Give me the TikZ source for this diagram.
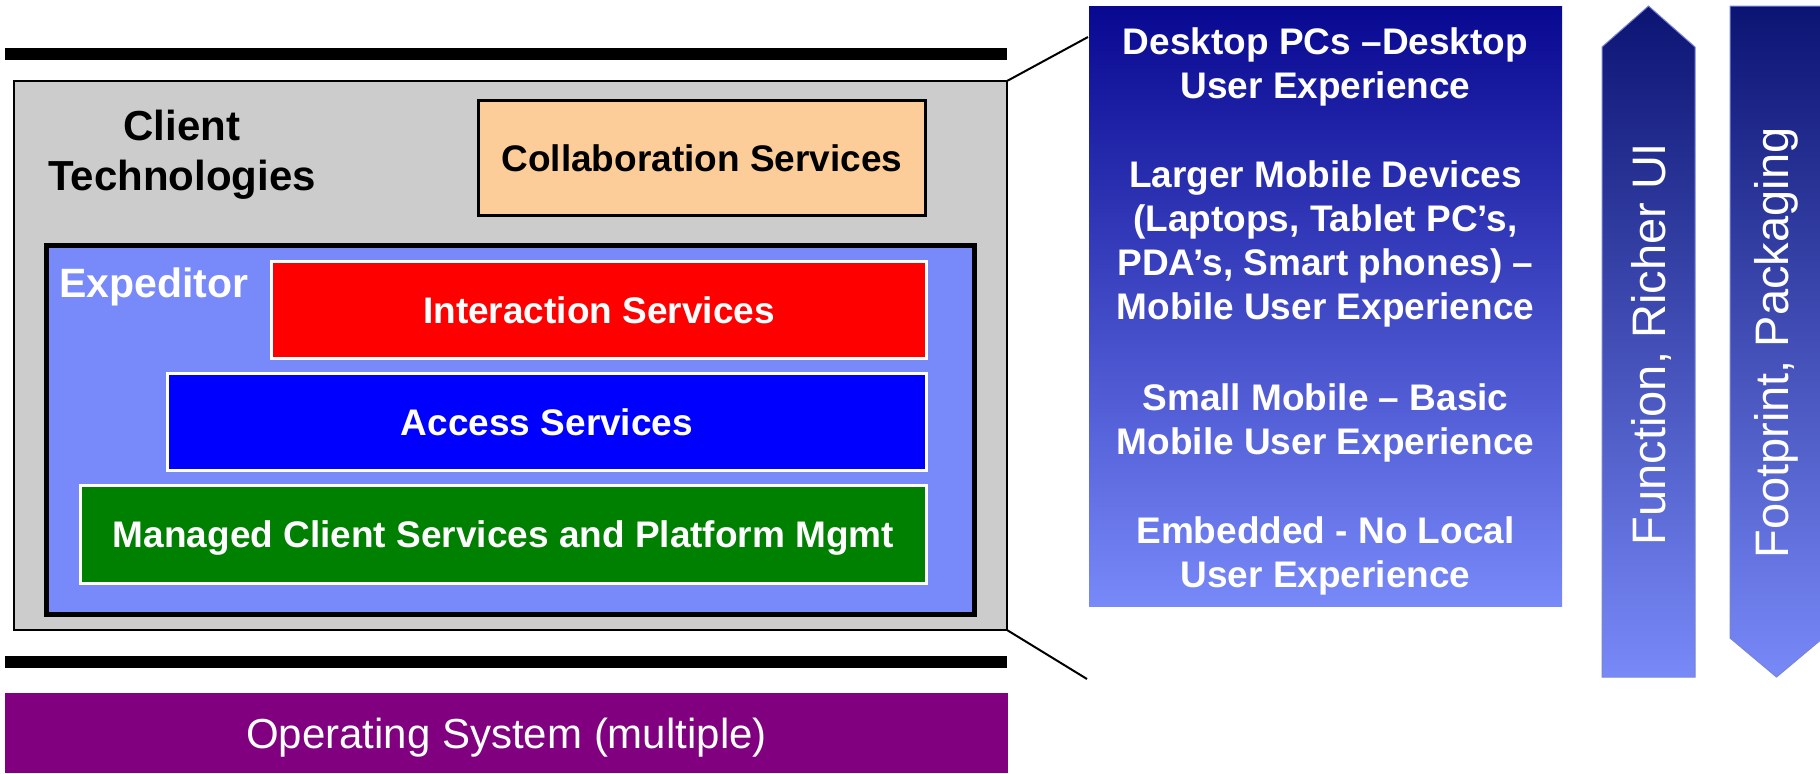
\documentclass[tikz,border=0pt]{standalone}
\usepackage{fontspec}
\setmainfont{Liberation Sans}
\definecolor{graybg}{RGB}{204,204,204}
\definecolor{peach}{RGB}{252,204,153}
\definecolor{expblue}{RGB}{120,137,250}
\definecolor{redbox}{RGB}{255,0,0}
\definecolor{bluebox}{RGB}{0,0,255}
\definecolor{greenbox}{RGB}{0,128,0}
\definecolor{purplebox}{RGB}{128,0,128}
\definecolor{gradtop}{RGB}{8,8,145}
\definecolor{gradbot}{RGB}{120,137,248}
\definecolor{arrtop}{RGB}{12,20,115}
\definecolor{arrbd}{RGB}{120,132,215}
\begin{document}
\begin{tikzpicture}[x=0.5pt,y=-0.5pt,
  box/.style={rectangle, inner sep=0pt, outer sep=0pt, text height=13.25pt, text depth=0pt, align=center},
  svc/.style={box, draw=white, line width=1.5pt, text=white, font=\fontsize{18.5}{22}\selectfont\bfseries},
  bar/.style={rectangle, inner sep=0pt, outer sep=0pt, text height=0pt, text depth=0pt, fill=black, minimum width=501pt, minimum height=6pt},
  rline/.style={anchor=base, inner sep=0pt, text=white, font=\fontsize{18.5}{22}\selectfont\bfseries},
  bigbold/.style={anchor=base, inner sep=0pt, font=\fontsize{21}{25}\selectfont\bfseries},
  vtext/.style={rotate=90, anchor=base, inner sep=0pt, text=white, font=\fontsize{23.5}{28}\selectfont},
  arrowshape/.style={draw=arrbd, line width=0.5pt, top color=arrtop, bottom color=gradbot},
  zoomline/.style={draw=black, line width=1pt}]
\useasboundingbox (0,0) rectangle (1820,773);

% bars
\node[bar] (topbar) at (506,54) {};
\node[bar] (botbar) at (506,662) {};

% client technologies box
\node[box, fill=graybg, draw=black, line width=1pt, minimum width=496.5pt, minimum height=274.5pt] (gray) at (510.5,355.5) {};
\node[bigbold] (client) at (182,140) {Client};
\node[bigbold] (tech) at (182,190) {Technologies};
\node[box, fill=peach, draw=black, line width=1.5pt, minimum width=223.5pt, minimum height=57.5pt, font=\fontsize{18.5}{22}\selectfont\bfseries] (collab) at (702,158) {Collaboration Services};

% expeditor
\node[box, fill=expblue, draw=black, line width=2.5pt, minimum width=464pt, minimum height=184.5pt] (exp) at (510.5,430) {};
\node[anchor=base, inner sep=0pt, text=white, font=\fontsize{20.5}{24}\selectfont\bfseries] (explabel) at (154,297) {Expeditor};
\node[svc, fill=redbox, minimum width=327.5pt, minimum height=48.5pt] (inter) at (599,310) {Interaction Services};
\node[svc, fill=bluebox, minimum width=379.5pt, minimum height=48.5pt] (access) at (547,422) {Access Services};
\node[svc, fill=greenbox, minimum width=423pt, minimum height=49pt] (managed) at (503.5,534.5) {Managed Client Services and Platform Mgmt};

% operating system
\node[box, fill=purplebox, minimum width=501.5pt, minimum height=40pt, text height=15pt, text=white, font=\fontsize{21}{25}\selectfont] (os) at (506.5,733) {Operating System (multiple)};

% gradient box
\node[box, top color=gradtop, bottom color=gradbot, minimum width=236.5pt, minimum height=300pt] (devices) at (1325.5,306) {};
\node[rline] (l1) at (1325.5,54) {Desktop PCs –Desktop};
\node[rline] (l2) at (1325.5,98) {User Experience};
\node[rline] (l3) at (1325.5,187) {Larger Mobile Devices};
\node[rline] (l4) at (1325.5,231) {(Laptops, Tablet PC’s,};
\node[rline] (l5) at (1325.5,275) {PDA’s, Smart phones) –};
\node[rline] (l6) at (1325.5,319) {Mobile User Experience};
\node[rline] (l7) at (1325.5,410) {Small Mobile – Basic};
\node[rline] (l8) at (1325.5,454) {Mobile User Experience};
\node[rline] (l9) at (1325.5,543) {Embedded - No Local};
\node[rline] (l10) at (1325.5,587) {User Experience};

% zoom lines
\coordinate (ctop) at (1088,37);
\coordinate (cbot) at (1087,679);
\draw[zoomline] (gray.north east) -- (ctop);
\draw[zoomline] (gray.south east) -- (cbot);

% arrows
\path[arrowshape] (1602,677) -- (1602,47) -- (1648.5,6) -- (1695,47) -- (1695,677) -- cycle;
\path[arrowshape] (1730,6) -- (1823,6) -- (1823,638) -- (1776.5,677) -- (1730,638) -- cycle;
\node[vtext] (func) at (1665,344) {Function, Richer UI};
\node[vtext] (foot) at (1788,343) {Footprint, Packaging};
\end{tikzpicture}
\end{document}
